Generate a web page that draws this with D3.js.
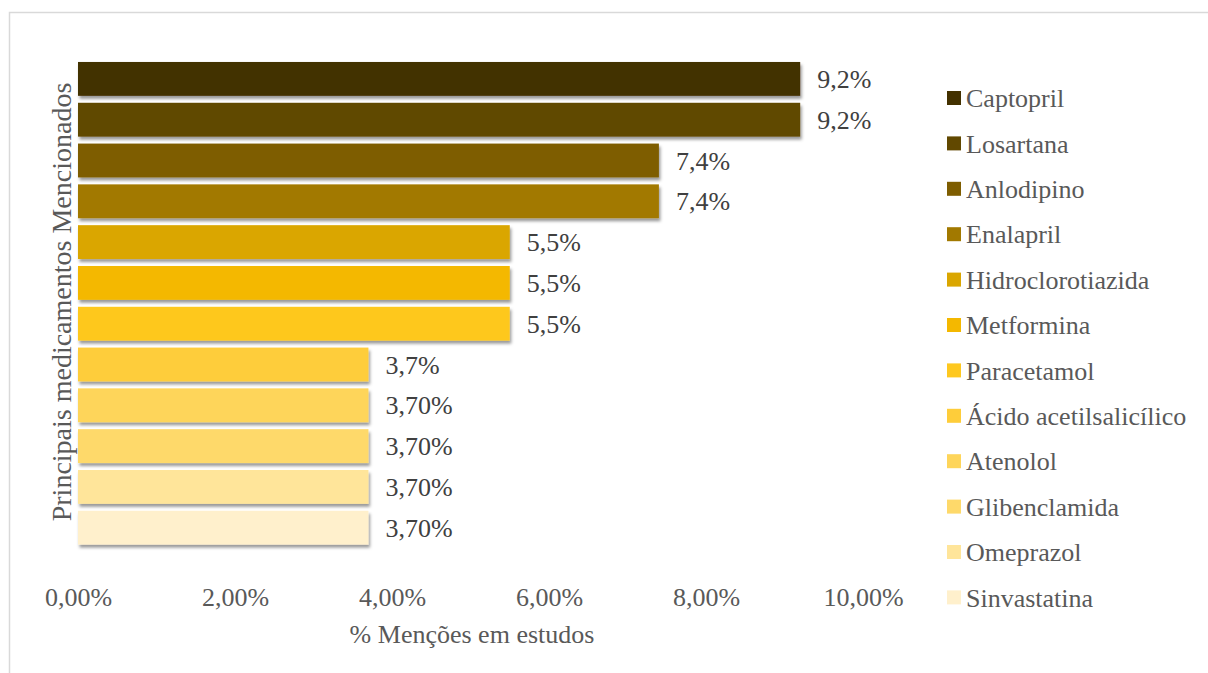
<!DOCTYPE html>
<html><head><meta charset="utf-8">
<script src="https://cdn.jsdelivr.net/npm/d3@7"></script>
<style>html,body{margin:0;padding:0;background:#fff;}svg{display:block;}</style>
</head><body><svg id="c" width="1208" height="673"></svg>
<script>
const categories = ["Captopril","Losartana","Anlodipino","Enalapril","Hidroclorotiazida","Metformina","Paracetamol","Ácido acetilsalicílico","Atenolol","Glibenclamida","Omeprazol","Sinvastatina"];
const values = [9.2,9.2,7.4,7.4,5.5,5.5,5.5,3.7,3.7,3.7,3.7,3.7];
const valueLabels = ["9,2%","9,2%","7,4%","7,4%","5,5%","5,5%","5,5%","3,7%","3,70%","3,70%","3,70%","3,70%"];
const colors = ["#433100","#614800","#7e5d00","#a27900","#daa600","#f4b800","#fec81f","#fecd3a","#fed55a","#fed96a","#ffe59a","#fff0cc"];
const xTicks = [0,2,4,6,8,10];
const xTitle = "% Menções em estudos";
const yTitle = "Principais medicamentos Mencionados";

const svg = d3.select("#c");
const font = "'Liberation Serif','Times New Roman',serif";
const txt = "#595959";

svg.append("rect").attr("x",9.5).attr("y",12.5).attr("width",1210).attr("height",680)
  .attr("fill","#fff").attr("stroke","#d9d9d9").attr("stroke-width",1.5);

const defs = svg.append("defs");
const f = defs.append("filter").attr("id","sh").attr("x","-5%").attr("y","-30%").attr("width","115%").attr("height","190%");
f.append("feDropShadow").attr("dx",1.5).attr("dy",3).attr("stdDeviation",1.6)
  .attr("flood-color","#000").attr("flood-opacity",0.4);

const x = d3.scaleLinear().domain([0,10]).range([78,863]);
const y = d3.scaleBand().domain(categories).range([58.5,548.1]).paddingInner(0.17).paddingOuter(0.085);

svg.append("g").selectAll("rect").data(categories).join("rect")
  .attr("x",x(0)).attr("y",d=>y(d)).attr("width",(d,i)=>x(values[i])-x(0))
  .attr("height",y.bandwidth()).attr("fill",(d,i)=>colors[i]).attr("filter","url(#sh)");

svg.append("g").selectAll("text").data(categories).join("text")
  .attr("x",(d,i)=>x(values[i])+17).attr("y",d=>y(d)+y.bandwidth()/2)
  .attr("dy","0.35em").attr("font-family",font).attr("font-size",26).attr("fill","#404040")
  .text((d,i)=>valueLabels[i]);

const xAxis = d3.axisBottom(x).tickValues(xTicks).tickSize(0).tickPadding(0)
  .tickFormat(d=>d3.format(".2f")(d).replace(".",",")+"%");
const gx = svg.append("g").attr("transform","translate(0,597)").call(xAxis);
gx.select(".domain").remove();
gx.selectAll("text").attr("dy","0.35em").attr("font-family",font).attr("font-size",26).attr("fill",txt);

svg.append("text").attr("x",472).attr("y",634).attr("dy","0.35em").attr("text-anchor","middle")
  .attr("font-family",font).attr("font-size",26).attr("fill",txt).text(xTitle);

svg.append("text").attr("transform","translate(61,302) rotate(-90)").attr("dy","0.35em")
  .attr("text-anchor","middle").attr("font-family",font).attr("font-size",28).attr("fill",txt).text(yTitle);

const leg = svg.append("g").selectAll("g").data(categories).join("g")
  .attr("transform",(d,i)=>`translate(947,${98+i*45.4})`);
leg.append("rect").attr("x",0).attr("y",-7).attr("width",14).attr("height",14).attr("fill",(d,i)=>colors[i]);
leg.append("text").attr("x",19).attr("y",0).attr("dy","0.35em").attr("font-family",font)
  .attr("font-size",26).attr("fill",txt).text(d=>d);
</script></body></html>
